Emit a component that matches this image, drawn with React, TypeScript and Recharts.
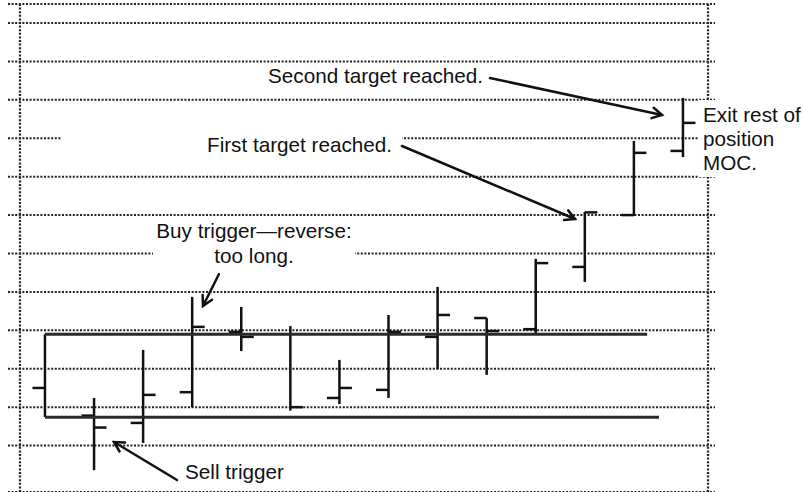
import React from 'react';
import {
  ComposedChart,
  Bar,
  XAxis,
  YAxis,
  CartesianGrid,
  ReferenceLine,
} from 'recharts';

// one price bar per session, prices in grid units (one dotted line = 1)
const sessions = [1, 2, 3, 4, 5, 6, 7, 8, 9, 10, 11, 12, 13, 14];
const highs = [3.9, 2.24, 3.49, 4.87, 4.61, 4.11, 3.23, 4.4, 5.13, 4.32, 5.86, 7.08, 8.93, 10.05];
const lows = [1.74, 0.36, 1.07, 2.0, 3.46, 1.91, 2.08, 2.24, 2.99, 2.84, 3.93, 5.26, 6.98, 8.51];
const opens = [2.5, 1.78, 1.59, 2.39, 3.96, null, 2.24, 2.45, 3.83, 4.32, 4.03, 5.65, 7.0, 8.67];
const closes = [null, 1.47, 2.32, 4.09, 3.83, 2.0, 2.5, 3.96, 4.4, 3.98, 5.75, 7.07, 8.62, 9.4];

// opening range box
const rangeHigh = 3.9;
const rangeLow = 1.74;
const rangeStart = 1;
const rangeHighEnd = 13.27;
const rangeLowEnd = 13.51;

const gridTicks = [0, 1, 2, 3, 4, 5, 6, 7, 8, 9, 10, 11, 12];

const rows = sessions.map((s, i) => ({
  session: s,
  high: highs[i],
  low: lows[i],
  open: opens[i],
  close: closes[i],
}));

const FONT = '"Liberation Sans", Arial, Helvetica, sans-serif';
const INK = '#111';

function OhlcShape(props: any) {
  const { x, y, width, height, payload } = props;
  if (!payload) return null;
  const top = Math.min(y, y + height);
  const h = Math.abs(height);
  const cx = x + width / 2;
  const { high, low, open, close } = payload;
  const toPx = (v: number) => top + ((high - v) / (high - low)) * h;
  return (
    <g stroke={INK} strokeWidth={2.5}>
      <line x1={cx} x2={cx} y1={top} y2={top + h} />
      {open != null && <line x1={x} x2={cx} y1={toPx(open)} y2={toPx(open)} />}
      {close != null && <line x1={cx} x2={x + width} y1={toPx(close)} y2={toPx(close)} />}
    </g>
  );
}

function Arrow({ x1, y1, x2, y2 }: { x1: number; y1: number; x2: number; y2: number }) {
  const ang = Math.atan2(y2 - y1, x2 - x1);
  const len = 11;
  const spread = 0.5;
  const a = { x: x2 - len * Math.cos(ang - spread), y: y2 - len * Math.sin(ang - spread) };
  const b = { x: x2 - len * Math.cos(ang + spread), y: y2 - len * Math.sin(ang + spread) };
  return (
    <g stroke={INK} strokeWidth={2.5} fill="none" strokeLinecap="round">
      <line x1={x1} y1={y1} x2={x2} y2={y2} />
      <polyline points={`${a.x},${a.y} ${x2},${y2} ${b.x},${b.y}`} />
    </g>
  );
}

function Notes() {
  const text = { fontFamily: FONT, fontSize: 20.7, fill: INK } as const;
  return (
    <svg
      width={804}
      height={492}
      style={{ position: 'absolute', left: 0, top: 0, pointerEvents: 'none' }}
    >
      <rect x={62} y={125} width={340} height={38} fill="#fff" />
      <rect x={153} y={218} width={202} height={52} fill="#fff" />
      <rect x={698} y={100} width={106} height={77} fill="#fff" />

      <text x={268} y={83} {...text}>Second target reached.</text>
      <Arrow x1={490} y1={78} x2={662} y2={115} />

      <text x={207} y={152} {...text}>First target reached.</text>
      <Arrow x1={402} y1={146} x2={575} y2={219} />

      <text x={703} y={122} {...text}>Exit rest of</text>
      <text x={703} y={146} {...text}>position</text>
      <text x={703} y={170} {...text}>MOC.</text>

      <text x={254} y={238} textAnchor="middle" {...text}>Buy trigger—reverse:</text>
      <text x={254} y={263} textAnchor="middle" {...text}>too long.</text>
      <Arrow x1={219} y1={274} x2={203} y2={306} />

      <text x={185} y={479} {...text}>Sell trigger</text>
      <Arrow x1={177} y1={480} x2={114} y2={442} />
    </svg>
  );
}

export default function App() {
  return (
    <div style={{ position: 'absolute', left: 0, top: 0, width: 804, height: 492, background: '#fff' }}>
      <ComposedChart
        width={804}
        height={492}
        data={rows}
        margin={{ top: 4, right: 89, bottom: 0, left: 8 }}
      >
        <XAxis
          type="number"
          dataKey="session"
          domain={[0.246, 14.652]}
          allowDataOverflow
          hide
        />
        <YAxis type="number" domain={[-0.208, 12.494]} ticks={gridTicks} allowDataOverflow hide />
        <CartesianGrid
          vertical={false}
          stroke="#222"
          strokeWidth={2}
          strokeDasharray="2 1.6"
        />
        <ReferenceLine x={0.49} stroke="#222" strokeWidth={2.2} strokeDasharray="2 1.6" />
        <ReferenceLine x={14.51} stroke="#222" strokeWidth={2.2} strokeDasharray="2 1.6" />
        <ReferenceLine
          segment={[{ x: rangeStart, y: rangeHigh }, { x: rangeHighEnd, y: rangeHigh }]}
          stroke="#2a2a2a"
          strokeWidth={3}
        />
        <ReferenceLine
          segment={[{ x: rangeStart, y: rangeLow }, { x: rangeLowEnd, y: rangeLow }]}
          stroke="#2a2a2a"
          strokeWidth={3}
        />
        <Bar
          dataKey={(d: any) => [d.low, d.high]}
          barSize={25}
          shape={<OhlcShape />}
          isAnimationActive={false}
        />
      </ComposedChart>
      <Notes />
    </div>
  );
}
